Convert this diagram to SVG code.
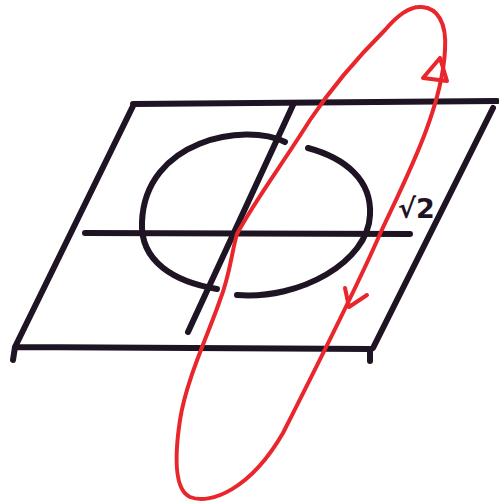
<svg xmlns="http://www.w3.org/2000/svg" width="499" height="504" viewBox="0 0 499 504">
<style>
.ink{fill:none;stroke:#1f1424;stroke-width:6;stroke-linecap:round;stroke-linejoin:round}
.red{fill:none;stroke:#e8262b;stroke-width:4;stroke-linecap:round;stroke-linejoin:round}
.lbl{font-family:"DejaVu Sans","Liberation Sans",sans-serif;font-weight:bold;fill:#1f1424}
</style>
<rect width="499" height="504" fill="#ffffff"/>
<g id="plane">
<path class="ink" d="M133 104 L497 101 M133 106 L15 347 L13 360 M15 347 L370 349 L370 361 M493 108 L373 348"/>
</g>
<g id="axes">
<path class="ink" d="M85 233 L410 234"/>
<path class="ink" d="M293 105 L188 332"/>
</g>
<g id="circle">
<path class="ink" d="M285 142 C245 122 145 140 142 222 C140 262 175 282 217 289"/>
<path class="ink" d="M308 148 C345 158 372 180 370 215 C368 262 300 300 237 295"/>
</g>
<g id="label">
<text class="lbl" x="398" y="218" font-size="27">√2</text>
</g>
<g id="connectors">
<path class="red" d="M385 30 C400 12 412 6 422 7 C437 8 447 22 445 50 C442 110 405 180 380 234 C360 280 320 360 283 433 C250 490 210 505 190 497 C175 490 174 460 180 420 C186 380 210 330 220 300 C230 275 232 250 237 234 C252 205 285 160 310 120 C330 90 360 55 385 30 Z"/>
<path class="red" d="M440 58 L423 78 L447 81 Z"/>
<path class="red" d="M345 288 L349 307 L367 295"/>
</g>
</svg>
